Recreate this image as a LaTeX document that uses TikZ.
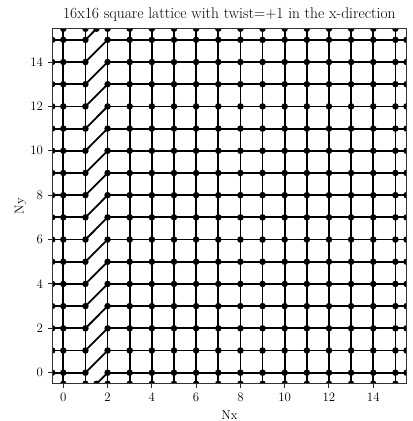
\documentclass[tikz,border=0pt]{standalone}
\begin{document}
\begin{tikzpicture}[x=22.14bp,y=22.19bp,
  edge/.style={line width=1.8bp,black},
  dot/.style={circle,fill=black,inner sep=0pt,minimum size=6.5bp},
  tickmark/.style={line width=1bp,black!85},
  ticklab/.style={font=\fontsize{12.9bp}{15bp}\selectfont,inner sep=0pt}]
\useasboundingbox (-63.3bp,-48.3bp) rectangle (349.7bp,372.7bp);
% lattice positions (including ghost positions beyond the periodic boundary)
\foreach \i in {-1,...,16}{\foreach \j in {-1,...,16}{\coordinate (v\i-\j) at (\i,\j);}}
\begin{scope}
\clip (-0.5,-0.5) rectangle (15.5,15.5);
% horizontal bonds
\foreach \j in {0,...,15}{
  \pgfmathtruncatemacro\jp{\j+1}
  \foreach \i in {-1,0,2,3,...,15}{
    \pgfmathtruncatemacro\ip{\i+1}
    \draw[edge] (v\i-\j) -- (v\ip-\j);
  }
  % twisted bond
  \draw[edge] (v1-\j) -- (v2-\jp);
}
\draw[edge] (v1--1) -- (v2-0);
% vertical bonds
\foreach \i in {0,...,15}{
  \foreach \j in {-1,...,15}{
    \pgfmathtruncatemacro\jp{\j+1}
    \draw[edge] (v\i-\j) -- (v\i-\jp);
  }
}
% sites
\foreach \i in {0,...,15}{\foreach \j in {0,...,15}{\node[dot] (d\i-\j) at (v\i-\j) {};}}
% boundary crossing markers
\foreach \k in {0,...,15}{
  \node[dot] (bl\k) at (-0.5,\k) {};
  \node[dot] (br\k) at (15.5,\k) {};
  \node[dot] (bb\k) at (\k,-0.5) {};
  \node[dot] (bt\k) at (\k,15.5) {};
}
\node[dot] (bbx) at (1.5,-0.5) {};
\node[dot] (btx) at (1.5,15.5) {};
\end{scope}
% frame
\draw[line width=1bp,black!80] (-0.5,-0.5) rectangle (15.5,15.5);
% ticks and tick labels
\foreach \k in {0,2,...,14}{
  \draw[tickmark] (\k,-0.5) -- ++(0,-4.5bp);
  \draw[tickmark] (-0.5,\k) -- ++(-4.5bp,0);
  \node[ticklab,anchor=north] (xt\k) at ([yshift=-9bp]\k,-0.5) {\k};
  \node[ticklab,anchor=east] (yt\k) at ([xshift=-9bp]-0.5,\k) {\k};
}
% axis labels and title
\node[ticklab,anchor=base] (xlabel) at ([yshift=-35.5bp]7.5,-0.5) {Nx};
\node[ticklab,rotate=90] (ylabel) at ([xshift=-31.7bp]-0.5,7.5) {Ny};
\node[anchor=base,inner sep=0pt,font=\fontsize{15.5bp}{18bp}\selectfont] (title) at ([yshift=9.8bp]7.5,15.5) {16x16 square lattice with twist=+1 in the x-direction};
\end{tikzpicture}
\end{document}
